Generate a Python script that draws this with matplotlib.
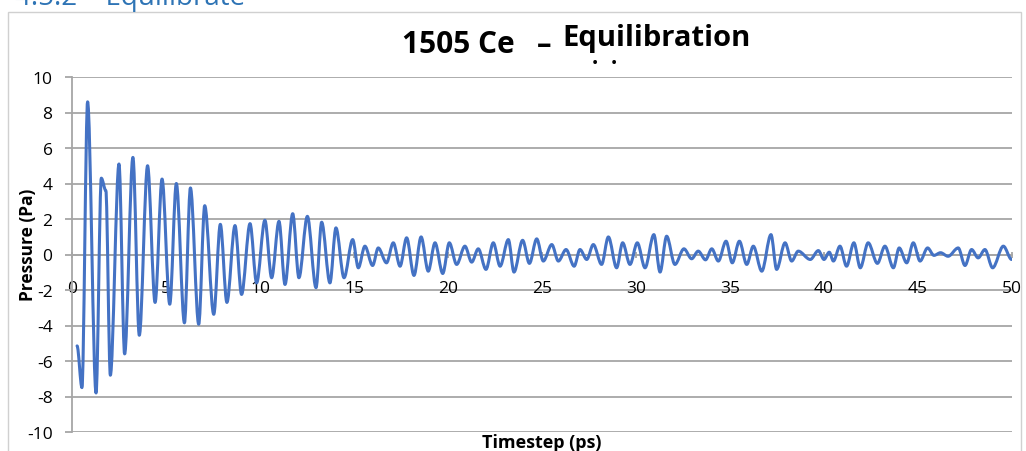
import matplotlib
matplotlib.use("Agg")
import matplotlib.pyplot as plt
from matplotlib.path import Path
from matplotlib.patches import PathPatch, Rectangle

# turning points of the pressure trace (ps, Pa)
time_ps = [0.27, 0.53, 0.83, 1.28, 1.56, 1.80, 2.04, 2.50, 2.80, 3.24, 3.58, 4.02,
           4.42, 4.79, 5.20, 5.55, 5.98, 6.30, 6.74, 7.06, 7.54, 7.89, 8.24, 8.67,
           9.02, 9.47, 9.82, 10.26, 10.62, 11.01, 11.33, 11.74, 12.07, 12.52, 12.98,
           13.28, 13.72, 14.04, 14.47, 14.93, 15.23, 15.58, 15.99, 16.29, 16.73,
           17.09, 17.45, 17.80, 18.19, 18.57, 18.95, 19.31, 19.72, 20.07, 20.46,
           20.90, 21.26, 21.61, 22.02, 22.41, 22.77, 23.21, 23.51, 23.97, 24.33,
           24.72, 25.07, 25.52, 25.87, 26.28, 26.71, 27.02, 27.38, 27.73, 28.17,
           28.53, 28.97, 29.29, 29.68, 30.07, 30.48, 30.95, 31.28, 31.63, 32.07,
           32.55, 32.96, 33.31, 33.70, 34.03, 34.38, 34.79, 35.12, 35.50, 35.89,
           36.24, 36.69, 37.18, 37.48, 37.93, 38.28, 38.63, 39.27, 39.70, 40.00,
           40.28, 40.50, 40.85, 41.20, 41.59, 41.93, 42.35, 42.84, 43.24, 43.69,
           44.00, 44.40, 44.75, 45.11, 45.51, 45.85, 46.20, 46.60, 47.14, 47.50,
           47.85, 48.20, 48.56, 48.97, 49.54, 49.98]
pressure_pa = [-5.15, -7.5, 8.6, -7.8, 4.3, 3.6, -6.8, 5.1, -5.6, 5.47, -4.55, 5.0,
               -2.7, 4.25, -2.8, 4.0, -3.85, 3.75, -3.93, 2.75, -3.37, 1.7, -2.7, 1.63,
               -2.25, 1.74, -1.6, 1.93, -1.31, 1.87, -1.69, 2.3, -1.31, 2.15, -1.87,
               1.82, -1.6, 1.5, -1.31, 0.84, -0.75, 0.47, -0.62, 0.37, -0.47,
               0.66, -0.66, 0.94, -1.18, 0.99, -0.94, 0.66, -1.07, 0.66, -0.56,
               0.47, -0.43, 0.32, -0.84, 0.66, -0.66, 0.84, -0.99, 0.8, -0.5,
               0.88, -0.37, 0.56, -0.37, 0.28, -0.66, 0.28, -0.28, 0.56, -0.56,
               0.99, -0.75, 0.66, -0.56, 0.66, -0.75, 1.12, -0.99, 1.03, -0.56,
               0.32, -0.24, 0.19, -0.3, 0.32, -0.37, 0.75, -0.47, 0.75, -0.56,
               0.47, -0.94, 1.12, -0.84, 0.66, -0.37, 0.19, -0.28, 0.22, -0.28,
               0.13, -0.37, 0.47, -0.66, 0.66, -0.75, 0.66, -0.5, 0.47, -0.75,
               0.37, -0.47, 0.66, -0.37, 0.37, -0.05, 0.1, -0.1, 0.37, -0.62,
               0.28, -0.19, 0.28, -0.75, 0.47, -0.28]

x_ticks = [0, 5, 10, 15, 20, 25, 30, 35, 40, 45, 50]
y_ticks = [-10, -8, -6, -4, -2, 0, 2, 4, 6, 8, 10]

W, H = 1026, 452
LINE_BLUE = "#4472C4"
GRID = "#a6a6a6"
FONT = "Open Sans"

plt.rcParams["axes.unicode_minus"] = False
plt.rcParams["font.family"] = FONT


def smooth_path(xs, ys):
    # cubic segments with flat tangents at each turning point
    verts = [(xs[0], ys[0])]
    codes = [Path.MOVETO]
    for x0, y0, x1, y1 in zip(xs[:-1], ys[:-1], xs[1:], ys[1:]):
        dx = x1 - x0
        verts += [(x0 + dx / 3, y0), (x1 - dx / 3, y1), (x1, y1)]
        codes += [Path.CURVE4] * 3
    return Path(verts, codes)


fig = plt.figure(figsize=(W / 100, H / 100), dpi=100)

# chart frame
fig.patches.append(Rectangle((8 / W, -0.1), 1013 / W, 1.1 - 13 / H,
                             transform=fig.transFigure, fill=False,
                             edgecolor="#d0d0d0", linewidth=1.0))

# section heading, mostly cut off at the top edge
fig.text(15 / W, 1 - 5 / H, "4.5.2 \u2013 Equilibrate", color="#2E74B5",
         fontsize=20, va="baseline", ha="left")

ax = fig.add_axes([72 / W, 1 - 433 / H, 940 / W, 355 / H])
ax.set_xlim(0, 50)
ax.set_ylim(-10, 10)

for yv in y_ticks:
    ax.axhline(yv, color=GRID, linewidth=1.3, zorder=1)

ax.add_patch(PathPatch(smooth_path(time_ps, pressure_pa), facecolor="none",
                       edgecolor=LINE_BLUE, linewidth=2.2, capstyle="round",
                       joinstyle="round", zorder=3))

for side in ("top", "right"):
    ax.spines[side].set_visible(False)
ax.spines["left"].set_color(GRID)
ax.spines["left"].set_linewidth(1.3)
ax.spines["bottom"].set_position(("data", 0))
ax.spines["bottom"].set_color(GRID)
ax.spines["bottom"].set_linewidth(1.3)

ax.set_xticks(x_ticks)
ax.set_yticks(y_ticks)
ax.tick_params(axis="y", direction="out", length=5, width=1.3, color=GRID,
               pad=9, labelsize=12.5)
ax.tick_params(axis="x", direction="inout", length=5, width=1.3, color=GRID,
               pad=16, labelsize=12.5)

ax.set_ylabel("Pressure (Pa)", fontsize=12.5, fontweight="bold")
ax.yaxis.set_label_coords(-35 / 940, 0.53)
ax.set_xlabel("Timestep (ps)", fontsize=13, fontweight="bold")
ax.xaxis.set_label_coords(0.5, -0.003)
ax.xaxis.label.set_va("top")

# title: overlapping runs of text
fig.text(402 / W, 1 - 53 / H, "1505 Ce", fontsize=21.5, fontweight="bold",
         va="baseline", ha="left")
fig.text(537 / W, 1 - 53 / H, "\u2013", fontsize=21, fontweight="bold",
         va="baseline", ha="left")
fig.text(562 / W, 1 - 46 / H, "Equilibration", fontsize=21, fontweight="bold",
         va="baseline", ha="left")
for dot_x in (592, 611):
    fig.text(dot_x / W, 1 - 64 / H, ".", fontsize=16, fontweight="bold",
             va="baseline", ha="left")

fig.savefig("out.png", dpi=100)
